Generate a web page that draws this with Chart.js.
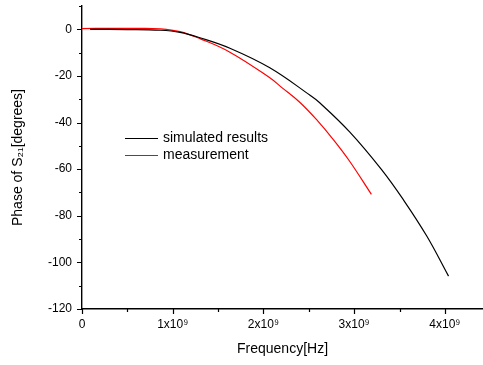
<!DOCTYPE html>
<html>
<head>
<meta charset="utf-8">
<script src="https://cdn.jsdelivr.net/npm/chart.js@4.4.0/dist/chart.umd.min.js"></script>
<style>
  html, body { margin: 0; padding: 0; background: #fff; }
  #wrap { position: relative; width: 483px; height: 365px; }
</style>
</head>
<body>
<div id="wrap"><canvas id="phaseChart"></canvas></div>
<script>
// frequency in units of 1e9 Hz, phase in degrees
const SIM_FREQ  = [0.09, 0.50, 0.86, 1.08, 1.30, 1.63, 2.07, 2.51, 2.62, 2.95, 3.30, 3.54, 3.80, 4.04];
const SIM_PHASE = [0, -0.1, -0.4, -1.3, -3.6, -8.1, -16.5, -28.2, -31.5, -44.0, -60.1, -73.0, -88.7, -105.9];
const MEAS_FREQ  = [0, 0.30, 0.60, 0.86, 1.08, 1.30, 1.63, 2.07, 2.20, 2.40, 2.60, 2.77, 2.95, 3.19];
const MEAS_PHASE = [0.3, 0.4, 0.4, 0.2, -1.0, -4.0, -9.8, -20.8, -24.9, -31.3, -39.4, -47.3, -56.6, -70.8];

const SERIES_LABELS = ['simulated results', 'measurement'];
const SERIES_COLORS = ['#000000', '#ff0000'];

const X_TICKS = [0, 1, 2, 3, 4];
const X_TICK_LABELS = ['0', '1x10\u2079', '2x10\u2079', '3x10\u2079', '4x10\u2079'];
const X_MINOR = [0.5, 1.5, 2.5, 3.5];
const Y_TICKS = [-120, -100, -80, -60, -40, -20, 0];
const Y_MINOR = [-110, -90, -70, -50, -30, -10, 10];

const FONT = 'Arial, "Liberation Sans", sans-serif';

function toPoints(xs, ys) {
    return xs.map((x, i) => ({ x: x, y: ys[i] }));
}

// short outward tick marks, minor ones shorter
const tickMarks = {
    id: 'tickMarks',
    afterDraw(chart) {
        const ctx = chart.ctx;
        const xs = chart.scales.x, ys = chart.scales.y;
        const a = chart.chartArea;
        ctx.save();
        ctx.strokeStyle = '#000';
        ctx.lineWidth = 1.2;
        ctx.beginPath();
        X_TICKS.forEach(v => { const p = Math.round(xs.getPixelForValue(v)) + 0.5; ctx.moveTo(p, a.bottom); ctx.lineTo(p, a.bottom + 5); });
        X_MINOR.forEach(v => { const p = Math.round(xs.getPixelForValue(v)) + 0.5; ctx.moveTo(p, a.bottom); ctx.lineTo(p, a.bottom + 3); });
        Y_TICKS.forEach(v => { const p = Math.round(ys.getPixelForValue(v)) + 0.5; ctx.moveTo(a.left, p); ctx.lineTo(a.left - 5, p); });
        Y_MINOR.forEach(v => { const p = Math.round(ys.getPixelForValue(v)) + 0.5; ctx.moveTo(a.left, p); ctx.lineTo(a.left - 3, p); });
        ctx.stroke();
        ctx.restore();
    }
};

// legend sitting inside the plot
const insideLegend = {
    id: 'insideLegend',
    afterDraw(chart) {
        const ctx = chart.ctx;
        ctx.save();
        ctx.font = '14px ' + FONT;
        ctx.textBaseline = 'middle';
        ctx.textAlign = 'left';
        chart.data.datasets.forEach((ds, i) => {
            const y = 138 + i * 17;
            ctx.strokeStyle = ds.borderColor;
            ctx.lineWidth = 1.2;
            ctx.beginPath();
            ctx.moveTo(125, y + 0.5);
            ctx.lineTo(158, y + 0.5);
            ctx.stroke();
            ctx.fillStyle = '#000';
            ctx.fillText(ds.label, 163, y);
        });
        ctx.restore();
    }
};

new Chart(document.getElementById('phaseChart'), {
    type: 'line',
    data: {
        datasets: [
            {
                label: SERIES_LABELS[0],
                data: toPoints(SIM_FREQ, SIM_PHASE),
                borderColor: SERIES_COLORS[0],
                borderWidth: 1.2,
                pointRadius: 0,
                tension: 0.4,
                fill: false,
            },
            {
                label: SERIES_LABELS[1],
                data: toPoints(MEAS_FREQ, MEAS_PHASE),
                borderColor: SERIES_COLORS[1],
                borderWidth: 1.2,
                pointRadius: 0,
                tension: 0.4,
                fill: false,
            }
        ]
    },
    options: {
        responsive: true, maintainAspectRatio: false,
        animation: false,
        layout: { padding: { top: 6, right: 0, left: 0, bottom: 0 } },
        plugins: {
            legend: { display: false },
            tooltip: { enabled: false }
        },
        scales: {
            x: {
                type: 'linear',
                min: 0, max: 4.42,
                afterBuildTicks: s => { s.ticks = X_TICKS.map(v => ({ value: v })); },
                afterFit: s => { s.height = 56; },
                grid: { display: false, drawTicks: true, tickLength: 5 },
                border: { display: true, color: '#000', width: 1.4 },
                ticks: {
                    color: '#000', padding: 3, maxRotation: 0,
                    font: { family: FONT, size: 12 },
                    callback: (v, i) => X_TICK_LABELS[i]
                },
                title: {
                    display: true, text: 'Frequency[Hz]', color: '#000',
                    font: { family: FONT, size: 14 },
                    padding: { top: 0, bottom: 7 }
                }
            },
            y: {
                min: -120, max: 10,
                afterBuildTicks: s => { s.ticks = Y_TICKS.map(v => ({ value: v })); },
                afterFit: s => { s.width = 82; },
                grid: { display: false, drawTicks: true, tickLength: 10 },
                border: { display: true, color: '#000', width: 1.4 },
                ticks: {
                    color: '#000', padding: 0,
                    font: { family: FONT, size: 12, lineHeight: 0.8 }
                },
                title: {
                    display: true, text: 'Phase of S\u2082\u2081[degrees]', color: '#000',
                    font: { family: FONT, size: 14 },
                    padding: { top: 10, bottom: 0 }
                }
            }
        }
    },
    plugins: [tickMarks, insideLegend]
});
</script>
</body>
</html>
